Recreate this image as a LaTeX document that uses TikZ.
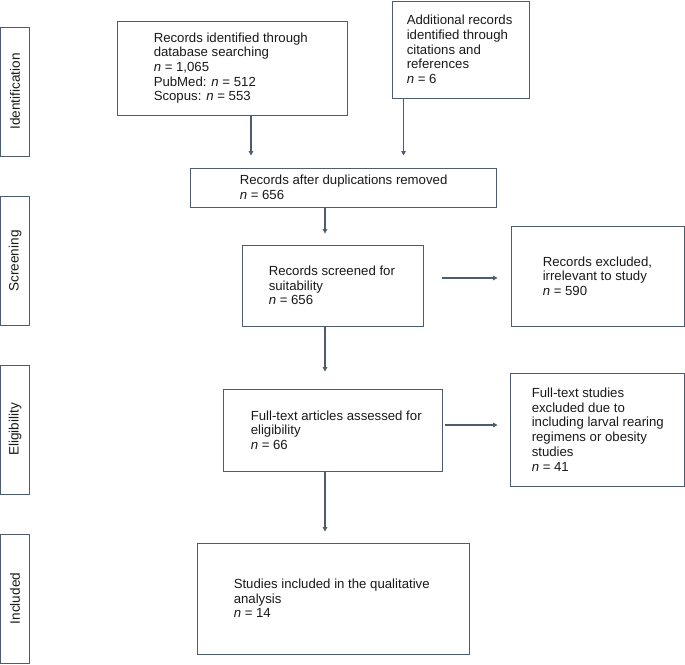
\documentclass[tikz,border=0pt]{standalone}
\usepackage{fontspec}
\setmainfont{Liberation Sans}
\usepackage{tikz}
\usetikzlibrary{arrows.meta,positioning}
\definecolor{frame}{RGB}{78,92,112}

\begin{document}
\begin{tikzpicture}[x=1pt, y=-1pt,
  box/.style={draw=frame, line width=0.9pt, inner sep=0pt},
  phase/.style={draw=frame, line width=0.9pt, rotate=90, minimum width=129pt, minimum height=29pt, inner sep=0pt, font=\fontsize{13.6}{15}\selectfont, text=black!90},
  txt/.style={anchor=west, align=left, inner sep=0pt, font=\fontsize{13.2}{14.7}\selectfont, text=black!90},
  arr/.style={-{Triangle[width=4.5pt,length=4.5pt]}, draw=frame, line width=1.1pt}
]
\useasboundingbox (0,0) rectangle (685,664);

% Phase labels
\node[phase] (pid) at (15, 91.5) {Identification};
\node[phase] (psc) at (15, 261) {Screening};
\node[phase] (pel) at (15, 429.5) {Eligibility};
\node[phase] (pin) at (15, 598.5) {Included};

% Boxes
\node[box, minimum width=230pt, minimum height=94pt] (db) at (232, 68) {};
\node[box, minimum width=137pt, minimum height=97pt] (cit) at (460.5, 49.5) {};
\node[box, minimum width=306pt, minimum height=39pt] (dup) at (343, 187.5) {};
\node[box, minimum width=181pt, minimum height=81pt] (scr) at (332.5, 285.5) {};
\node[box, minimum width=173pt, minimum height=100pt] (irr) at (597.5, 276) {};
\node[box, minimum width=219pt, minimum height=82pt] (full) at (332.5, 430) {};
\node[box, minimum width=174pt, minimum height=113pt] (fex) at (597, 429.5) {};
\node[box, minimum width=272pt, minimum height=111pt] (qual) at (333, 598.5) {};

% Box texts
\node[txt] (tdb) at ([xshift=37pt]db.west) {Records identified through\\database searching\\\textit{n} = 1,065\\PubMed: \textit{n} = 512\\Scopus: \textit{n} = 553};
\node[txt] (tcit) at ([xshift=15pt]cit.west) {Additional records\\identified through\\citations and\\references\\\textit{n} = 6};
\node[txt] (tdup) at ([xshift=50pt]dup.west) {Records after duplications removed\\\textit{n} = 656};
\node[txt] (tscr) at ([xshift=27pt]scr.west) {Records screened for\\suitability\\\textit{n} = 656};
\node[txt] (tirr) at ([xshift=32pt]irr.west) {Records excluded,\\irrelevant to study\\\textit{n} = 590};
\node[txt] (tfull) at ([xshift=28pt]full.west) {Full-text articles assessed for\\eligibility\\\textit{n} = 66};
\node[txt] (tfex) at ([xshift=22pt]fex.west) {Full-text studies\\excluded due to\\including larval rearing\\regimens or obesity\\studies\\\textit{n} = 41};
\node[txt] (tqual) at ([xshift=37pt]qual.west) {Studies included in the qualitative\\analysis\\\textit{n} = 14};

% Arrows
\draw[arr, shorten >=12pt] ([xshift=19pt]db.south) -- ([xshift=19pt]db.south |- dup.north);
\draw[arr, shorten >=12pt] ([xshift=12pt]cit.south west) -- ([xshift=12pt]cit.south west |- dup.north);
\draw[arr, shorten >=11pt] ([xshift=-18pt]dup.south) -- ([xshift=-18pt]dup.south |- scr.north);
\draw[arr, shorten <=19pt, shorten >=13pt] ([yshift=7.5pt]scr.east) -- ([yshift=7.5pt]scr.east -| irr.west);
\draw[arr, shorten >=17pt] ([xshift=-7.5pt]scr.south) -- ([xshift=-7.5pt]scr.south |- full.north);
\draw[arr, shorten <=3pt, shorten >=12pt] ([yshift=5pt]full.east) -- ([yshift=5pt]full.east -| fex.west);
\draw[arr, shorten >=11pt] ([xshift=-7.5pt]full.south) -- ([xshift=-7.5pt]full.south |- qual.north);
\end{tikzpicture}
\end{document}
